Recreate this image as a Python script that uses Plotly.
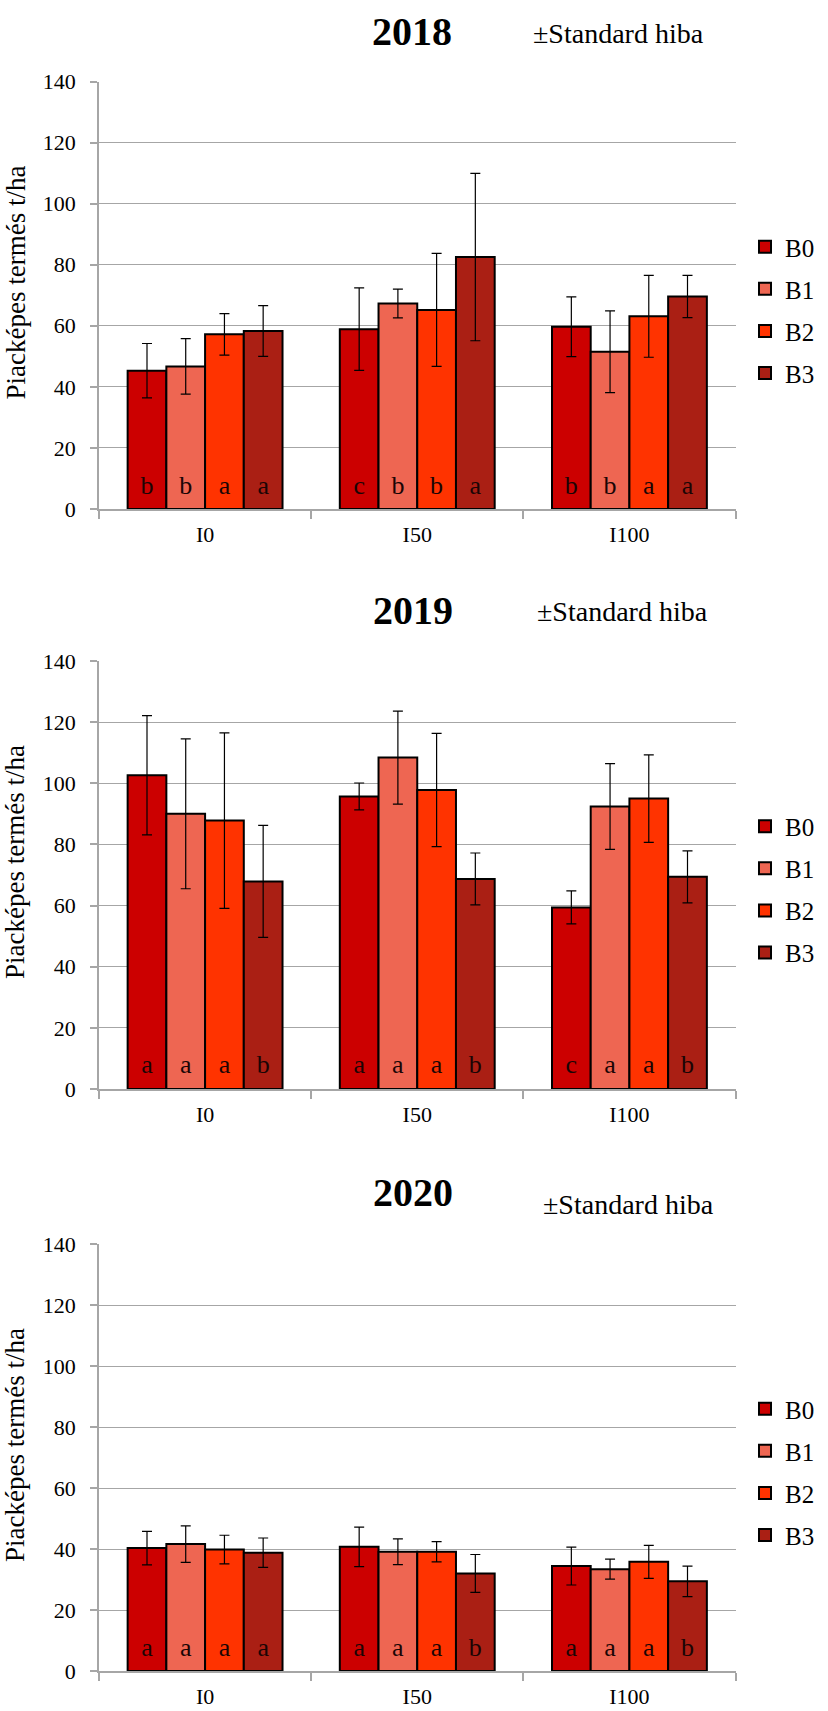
import plotly.graph_objects as go

categories = ["I0", "I50", "I100"]
series = ["B0", "B1", "B2", "B3"]
colors = ["#CC0000", "#EE6652", "#FF3300", "#AA1F14"]
years = ["2018", "2019", "2020"]

# means per series (rows B0..B3), columns I0, I50, I100
means_2018 = [[45.3, 58.9, 59.7], [46.7, 67.3, 51.5], [57.2, 65.2, 63.1], [58.3, 82.5, 69.6]]
se_2018 = [[8.9, 13.5, 9.8], [9.1, 4.7, 13.4], [6.8, 18.5, 13.4], [8.3, 27.4, 6.9]]
letters_2018 = [["b", "c", "b"], ["b", "b", "b"], ["a", "b", "a"], ["a", "a", "a"]]

means_2019 = [[102.6, 95.7, 59.4], [90.0, 108.4, 92.4], [87.8, 97.8, 95.0], [67.9, 68.7, 69.4]]
se_2019 = [[19.5, 4.4, 5.4], [24.5, 15.2, 14.0], [28.7, 18.5, 14.3], [18.3, 8.5, 8.5]]
letters_2019 = [["a", "a", "c"], ["a", "a", "a"], ["a", "a", "a"], ["b", "b", "b"]]

means_2020 = [[40.3, 40.7, 34.4], [41.6, 39.1, 33.4], [39.8, 39.1, 35.8], [38.8, 32.0, 29.4]]
se_2020 = [[5.5, 6.5, 6.2], [6.0, 4.2, 3.3], [4.7, 3.3, 5.4], [4.8, 6.2, 5.0]]
letters_2020 = [["a", "a", "a"], ["a", "a", "a"], ["a", "a", "a"], ["a", "b", "b"]]

y_title = "Piacképes termés t/ha"
err_label = "±Standard hiba"

W, H = 828, 1711
FONT = "Liberation Serif"
LETTER_Y = 7.2  # vertical placement of significance letters (axis units)

data_sets = [(means_2018, se_2018, letters_2018),
             (means_2019, se_2019, letters_2019),
             (means_2020, se_2020, letters_2020)]

# layout geometry in pixels
plot_left, plot_right = 99, 735.5
plot_tops = [81.5, 661, 1244]
plot_bottoms = [509, 1089, 1671]
title_y = [31, 610, 1192]
title_x = [412, 413, 413]
err_y = [34, 611, 1204]
err_x = [618, 622, 628]
legend_mid = [310, 889.5, 1472]

fig = go.Figure()

for k, (means, ses, letters) in enumerate(data_sets):
    n = "" if k == 0 else str(k + 1)
    for i, s in enumerate(series):
        fig.add_trace(go.Bar(
            x=categories, y=means[i], name=s, offsetgroup=s,
            marker=dict(color=colors[i], line=dict(color="black", width=2)),
            error_y=dict(type="data", array=ses[i], visible=True,
                         color="black", thickness=1.2, width=5),
            xaxis="x" + n, yaxis="y" + n,
            legend="legend" + n, legendgroup=f"{years[k]}-{s}",
            showlegend=True, hoverinfo="x+y",
        ))
    for i, s in enumerate(series):
        fig.add_trace(go.Scatter(
            x=categories, y=[LETTER_Y] * len(categories), mode="text",
            text=letters[i], offsetgroup=s, textposition="middle center",
            textfont=dict(family=FONT, size=26, color="#1a0505"),
            xaxis="x" + n, yaxis="y" + n, showlegend=False, hoverinfo="skip",
        ))

layout = dict(
    width=W, height=H,
    margin=dict(l=0, r=0, t=0, b=0, pad=0, autoexpand=False),
    paper_bgcolor="white", plot_bgcolor="white",
    barmode="group", bargap=0.27, bargroupgap=0,
    scattermode="group", scattergap=0.27,
    font=dict(family=FONT, color="black"),
    annotations=[],
)

x0 = plot_left / W
x1 = plot_right / W
for k in range(3):
    n = "" if k == 0 else str(k + 1)
    ydom = [1 - plot_bottoms[k] / H, 1 - plot_tops[k] / H]
    layout["xaxis" + n] = dict(
        domain=[x0, x1], anchor="y" + n, type="category", automargin=False,
        showline=True, linecolor="#A6A6A6", linewidth=1.5,
        ticks="outside", tickson="boundaries", ticklen=8, tickcolor="#A6A6A6",
        tickwidth=1.5, ticklabelstandoff=5,
        tickfont=dict(family=FONT, size=22, color="black"),
        showgrid=False, zeroline=False, fixedrange=True,
    )
    layout["yaxis" + n] = dict(
        domain=ydom, anchor="x" + n, range=[0, 140], dtick=20, automargin=False,
        showline=True, linecolor="#A6A6A6", linewidth=1.5,
        ticks="outside", ticklen=7, tickcolor="#A6A6A6", tickwidth=1.5,
        ticklabelstandoff=10,
        tickfont=dict(family=FONT, size=22, color="black"),
        showgrid=True, gridcolor="#A6A6A6", gridwidth=1.3,
        zeroline=False, fixedrange=True,
    )
    layout["legend" + n] = dict(
        x=745 / W, xanchor="left", y=1 - legend_mid[k] / H, yanchor="middle",
        font=dict(family=FONT, size=25, color="black"),
        tracegroupgap=6.6, itemwidth=30, bgcolor="rgba(0,0,0,0)",
        traceorder="grouped",
    )
    layout["annotations"].append(dict(
        text="<b>" + years[k] + "</b>", xref="paper", yref="paper",
        x=title_x[k] / W, y=1 - title_y[k] / H, xanchor="center", yanchor="middle",
        showarrow=False, font=dict(family=FONT, size=40, color="black")))
    layout["annotations"].append(dict(
        text=err_label, xref="paper", yref="paper",
        x=err_x[k] / W, y=1 - err_y[k] / H, xanchor="center", yanchor="middle",
        showarrow=False, font=dict(family=FONT, size=28, color="black")))
    layout["annotations"].append(dict(
        text=y_title, xref="paper", yref="paper", textangle=-90,
        x=15 / W, y=1 - (plot_tops[k] + 201) / H, xanchor="center", yanchor="middle",
        showarrow=False, font=dict(family=FONT, size=27, color="black")))

fig.update_layout(**layout)
fig.write_html(
    "out.html",
    config={"displayModeBar": False},
    post_script=(
        "document.documentElement.style.margin='0px';"
        "document.body.style.margin='0px';"
        "document.body.style.padding='0px';"
    ),
)
